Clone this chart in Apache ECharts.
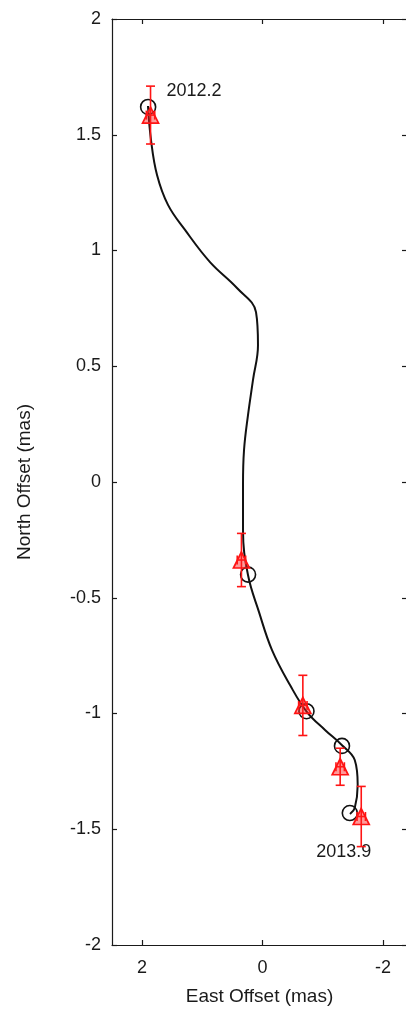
<!DOCTYPE html>
<html>
<head>
<meta charset="utf-8">
<script src="https://cdn.jsdelivr.net/npm/echarts@6/dist/echarts.min.js"></script>
<style>
  html, body { margin: 0; padding: 0; background: #fff; }
  #chart { width: 406px; height: 1014px; }
</style>
</head>
<body>
<div id="chart"></div>
<script>
// Orbit track on the sky (East offset, North offset), mas
const orbitEast  = [1.902, 1.852, 1.752, 1.570, 1.287, 0.872, 0.424, 0.108, 0.075, 0.158, 0.241, 0.307, 0.324, 0.324, 0.241, 0.058, -0.158, -0.457, -0.739, -1.038, -1.316, -1.532, -1.581, -1.532, -1.453];
const orbitNorth = [1.624, 1.477, 1.326, 1.197, 1.089, 0.950, 0.838, 0.734, 0.592, 0.441, 0.289, 0.138, -0.013, -0.207, -0.402, -0.562, -0.726, -0.877, -0.994, -1.071, -1.136, -1.201, -1.309, -1.408, -1.434];

// Model positions at the observing epochs
const modelEast  = [1.90, 0.24, -0.73, -1.32, -1.45];
const modelNorth = [1.62, -0.40, -0.99, -1.14, -1.43];
const epochLabels = ['2012.2', '', '', '', '2013.9'];

// Measured positions with 1-sigma errors
const obsEast   = [1.86, 0.35, -0.67, -1.29, -1.64];
const obsNorth  = [1.585, -0.337, -0.965, -1.23, -1.445];
const obsErrE   = [0.07, 0.07, 0.07, 0.07, 0.07];
const obsErrN   = [0.125, 0.115, 0.13, 0.08, 0.13];

// Axis ticks
const eastTicks  = [-2, 0, 2];
const northMin = -2, northMax = 2, northStep = 0.5;
const eastMin = -2.4, eastMax = 2.5;

const FONT = 'Liberation Sans, Arial, Helvetica, sans-serif';
const INK = '#1a1a1a';
const RED = '#ff1414';

const chart = echarts.init(document.getElementById('chart'), null, { renderer: 'canvas' });

const orbitData = orbitEast.map((e, i) => [e, orbitNorth[i]]);
const modelData = modelEast.map((e, i) => {
  const txt = epochLabels[i];
  const item = { value: [e, modelNorth[i]] };
  if (txt) {
    item.label = {
      show: true,
      formatter: txt,
      position: i === 0 ? 'right' : 'bottom',
      offset: i === 0 ? [5, -16] : [-6, 17],
      fontFamily: FONT,
      fontSize: 18,
      color: INK
    };
  }
  return item;
});
const obsData = obsEast.map((e, i) => [e, obsNorth[i], obsErrE[i], obsErrN[i]]);

const lineStyle = { color: INK, width: 1.2 };
const tickStyle = { show: true, inside: true, length: 5, lineStyle: { color: INK, width: 1.2 } };

chart.setOption({
  animation: false,
  backgroundColor: '#fff',
  grid: { left: 112, top: 19, width: 295, bottom: 69, outerBoundsMode: 'none' },
  xAxis: [
    {
      type: 'value', position: 'bottom', inverse: true,
      min: eastMin, max: eastMax,
      axisLine: { show: true, onZero: false, lineStyle },
      axisTick: Object.assign({ customValues: eastTicks }, tickStyle),
      axisLabel: { customValues: eastTicks, fontFamily: FONT, fontSize: 18, color: INK, margin: 14 },
      splitLine: { show: false },
      name: 'East Offset (mas)', nameLocation: 'middle', nameGap: 42,
      nameTextStyle: { fontFamily: FONT, fontSize: 19, color: INK }
    },
    {
      type: 'value', position: 'top', inverse: true,
      min: eastMin, max: eastMax,
      axisLine: { show: true, onZero: false, lineStyle },
      axisTick: Object.assign({ customValues: eastTicks }, tickStyle),
      axisLabel: { show: false },
      splitLine: { show: false }
    }
  ],
  yAxis: [
    {
      type: 'value', position: 'left',
      min: northMin, max: northMax, interval: northStep,
      axisLine: { show: true, onZero: false, lineStyle },
      axisTick: tickStyle,
      axisLabel: { fontFamily: FONT, fontSize: 18, color: INK, margin: 11 },
      splitLine: { show: false },
      name: 'North Offset (mas)', nameLocation: 'middle', nameGap: 78, nameRotate: 90,
      nameTextStyle: { fontFamily: FONT, fontSize: 19, color: INK }
    },
    {
      type: 'value', position: 'right',
      min: northMin, max: northMax, interval: northStep,
      axisLine: { show: true, onZero: false, lineStyle },
      axisTick: tickStyle,
      axisLabel: { show: false },
      splitLine: { show: false }
    }
  ],
  series: [
    {
      name: 'orbit', type: 'line', data: orbitData,
      smooth: 0.4, showSymbol: false, symbol: 'none',
      lineStyle: { color: '#111', width: 2 }, z: 2
    },
    {
      name: 'model', type: 'scatter', data: modelData,
      symbol: 'circle', symbolSize: 15,
      itemStyle: { color: 'rgba(0,0,0,0)', borderColor: '#111', borderWidth: 1.6, opacity: 1 },
      z: 3
    },
    {
      name: 'errors', type: 'custom', data: obsData,
      renderItem: function (params, api) {
        const e = api.value(0), n = api.value(1), de = api.value(2), dn = api.value(3);
        const top = api.coord([e, n + dn]);
        const bot = api.coord([e, n - dn]);
        const lft = api.coord([e + de, n]);
        const rgt = api.coord([e - de, n]);
        const cap = 4.5;
        const st = { stroke: RED, lineWidth: 1.6 };
        const seg = (x1, y1, x2, y2) => ({ type: 'line', shape: { x1, y1, x2, y2 }, style: st });
        return {
          type: 'group',
          children: [
            seg(top[0], top[1], bot[0], bot[1]),
            seg(top[0] - cap, top[1], top[0] + cap, top[1]),
            seg(bot[0] - cap, bot[1], bot[0] + cap, bot[1]),
            seg(lft[0], lft[1], rgt[0], rgt[1]),
            seg(lft[0], lft[1] - cap, lft[0], lft[1] + cap),
            seg(rgt[0], rgt[1] - cap, rgt[0], rgt[1] + cap)
          ]
        };
      },
      z: 4
    },
    {
      name: 'observed', type: 'scatter',
      data: obsEast.map((e, i) => [e, obsNorth[i]]),
      symbol: 'triangle', symbolSize: [16, 16],
      itemStyle: { color: 'rgba(255,30,30,0.45)', borderColor: RED, borderWidth: 1.7, opacity: 1 },
      z: 5
    }
  ]
});
</script>
</body>
</html>
